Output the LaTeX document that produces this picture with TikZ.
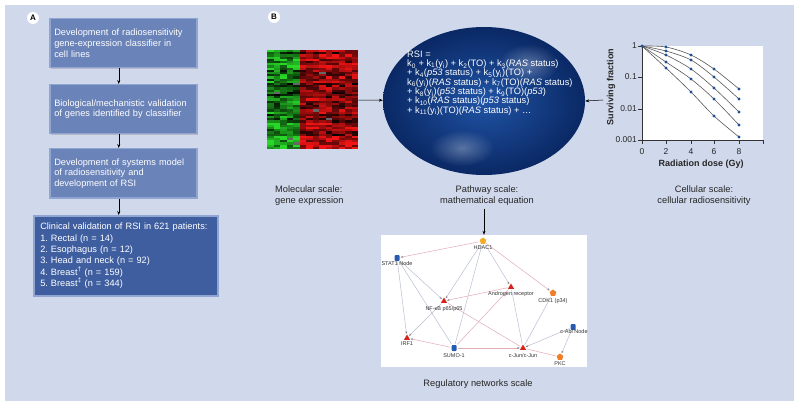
\documentclass[tikz,border=0pt]{standalone}
\usepackage{fontspec}
\setmainfont{Liberation Sans}
\usetikzlibrary{arrows.meta,shapes.geometric,fadings,shadows,calc}
\hyphenpenalty=10000
\definecolor{bg}{RGB}{208,216,235}
\definecolor{boxA}{RGB}{106,131,185}
\definecolor{boxD}{RGB}{62,94,160}
\definecolor{boxedge}{RGB}{145,165,210}
\definecolor{ellout}{RGB}{10,40,100}
\definecolor{ellin}{RGB}{32,84,166}
\definecolor{hgreen}{RGB}{40,215,40}
\definecolor{hred}{RGB}{240,20,20}
\definecolor{dotblue}{RGB}{30,78,154}
\definecolor{epink}{RGB}{225,172,182}
\definecolor{egray}{RGB}{186,192,210}
\definecolor{nred}{RGB}{215,35,30}
\definecolor{nblue}{RGB}{40,90,180}
\definecolor{norange}{RGB}{240,125,40}
\definecolor{nyellow}{RGB}{242,172,40}
\tikzfading[name=softblob, inner color=transparent!0, outer color=transparent!100]
\newcommand\kk[1]{k\textsubscript{#1}}
\tikzset{
  boxstyle/.style={draw=boxedge, line width=1.5pt, fill=boxA, text=white,
    font=\fontsize{9.2}{10.6}\selectfont, align=left, anchor=north west,
    inner xsep=4.5pt, inner ysep=0pt, text width=138pt, minimum height=49pt,
    drop shadow={shadow xshift=1pt, shadow yshift=-1pt, opacity=0.35}},
  arr/.style={-{Stealth[length=4pt,width=3pt]}, line width=0.5pt, black},
  lbl/.style={font=\fontsize{9.3}{11}\selectfont, text=black!85, inner sep=0pt},
  tick/.style={font=\fontsize{8.5}{9}\selectfont, inner sep=0pt, text=black!85},
  panlab/.style={circle, fill=white, inner sep=0pt, minimum size=12pt, font=\fontsize{8}{8}\selectfont\bfseries},
  nlab/.style={font=\fontsize{5.5}{6}\selectfont, text=black!80, inner sep=0pt, anchor=north},
  nr/.style={regular polygon, regular polygon sides=3, fill=nred, inner sep=0pt, minimum size=7pt},
  nb/.style={rectangle, rounded corners=1pt, fill=nblue, inner sep=0pt, minimum width=5pt, minimum height=6pt},
  no/.style={regular polygon, regular polygon sides=5, fill=norange, inner sep=0pt, minimum size=7pt},
  ny/.style={regular polygon, regular polygon sides=5, fill=nyellow, inner sep=0pt, minimum size=7pt},
  ep/.style={draw=epink, line width=0.5pt},
  eg/.style={draw=egray, line width=0.5pt},
  ea/.style={-{Stealth[length=2.5pt,width=2pt,color=black!50]}}
}
\begin{document}
\begin{tikzpicture}[x=1pt,y=-1pt]
\useasboundingbox (0,0) rectangle (799,406);
\fill[white] (0,0) rectangle (799,406);
\fill[bg] (5,5) rectangle (794,401);

% ---------- Panel A ----------
\node[panlab] (labA) at (33,18) {A};
\node[boxstyle] (b1) at (49,18) {Development of radiosensitivity\\gene-expression classifier in\\cell lines};
\node[boxstyle] (b2) at (49,84) {Biological/mechanistic validation\\of genes identified by classifier};
\node[boxstyle] (b3) at (49,148) {Development of systems model\\of radiosensitivity and\\development of RSI};
\node[boxstyle, fill=boxD, text width=171pt, inner xsep=6.5pt, minimum height=80pt,
  font=\fontsize{9.2}{11.3}\selectfont\frenchspacing] (b4) at (33,215)
  {Clinical validation of RSI in 621 patients:\\
   1. Rectal (n = 14)\\
   2. Esophagus (n = 12)\\
   3. Head and neck (n = 92)\\
   4. Breast\textsuperscript{†} (n = 159)\\
   5. Breast\textsuperscript{‡} (n = 344)};
\draw[arr] ([xshift=-4.5pt]b1.south) -- ([xshift=-4.5pt]b2.north);
\draw[arr] ([xshift=-4.5pt]b2.south) -- ([xshift=-4.5pt]b3.north);
\draw[arr] ([xshift=-4.5pt]b3.south) -- ([xshift=-4.5pt]b3.south |- b4.north);

% ---------- Panel B ----------
\node[panlab] (labB) at (274,17) {B};

% heat map
\node[minimum width=91pt, minimum height=99pt, inner sep=0pt, anchor=north west] (heat) at (267,50) {};
\pgfmathsetseed{11}
\foreach \j in {0,...,44}{
  \pgfmathsetmacro\rf{rnd}
  \foreach \i in {0,...,13}{
    \pgfmathtruncatemacro\v{max(0,min(100,100*(0.5*\rf+0.8*rnd)-5))}
    \pgfmathtruncatemacro\g{rnd*100}
    \ifnum\i<5 \def\hc{hgreen}\else\def\hc{hred}\fi
    \ifnum\g>98 \fill[gray!80!black] ({267+6.5*\i},{50+2.2*\j}) rectangle ++(6.5,2.2);
    \else \fill[\hc!\v!black] ({267+6.5*\i},{50+2.2*\j}) rectangle ++(6.5,2.2);\fi
  }
}

% ellipse
\node[ellipse, minimum width=202pt, minimum height=148pt, inner sep=0pt,
  inner color=ellin, outer color=ellout] (ell) at (484,101) {};
\begin{scope}
  \clip (484,101) ellipse (101pt and 74pt);
  \fill[white, opacity=0.3, path fading=softblob] (528,64) ellipse (30pt and 20pt);
  \fill[white, opacity=0.3, path fading=softblob] (462,148) ellipse (32pt and 18pt);
\end{scope}
\node[anchor=west, text=white, align=left, inner sep=0pt,
  font=\fontsize{9.3}{9.35}\selectfont] (eq) at (407,83)
 {RSI =\\
  \kk{0} + \kk{1}(y\textsubscript{i}) + \kk{2}(TO) + \kk{3}(\textit{RAS} status)\\
  + \kk{4}(\textit{p53} status) + \kk{5}(y\textsubscript{i})(TO) +\\
  \kk{6}(y\textsubscript{i})(\textit{RAS} status) + \kk{7}(TO)(\textit{RAS} status)\\
  + \kk{8}(y\textsubscript{i})(\textit{p53} status) + \kk{9}(TO)(\textit{p53})\\
  + \kk{10}(\textit{RAS} status)(\textit{p53} status)\\
  + \kk{11}(y\textsubscript{i})(TO)(\textit{RAS} status) + …};
\draw[arr] (heat) -- (ell);

% survival plot
\fill[white] (642,46) rectangle (763,140);
\draw[black!80, line width=0.5pt] (642,46) -- (642,140) -- (763,140);
\foreach \yy/\t [count=\k] in {46/1,77/0.1,109/0.01,140/0.001}{
  \draw[black!80, line width=0.5pt] (638,\yy) -- (642,\yy);
  \node[tick, anchor=east] (yt\k) at (637,\yy) {\t};
}
\foreach \xx/\t [count=\k] in {642/0,666/2,691/4,714/6,739/8}{
  \draw[black!80, line width=0.5pt] (\xx,140) -- (\xx,144);
  \node[tick] (xt\k) at (\xx,152) {\t};
}
\draw[black!80, line width=0.5pt] (763,140) -- (763,144);
\node[font=\fontsize{9}{9}\selectfont\bfseries, text=black!85, inner sep=0pt] (xlab) at (701,164) {Radiation dose (Gy)};
\node[font=\fontsize{9}{9}\selectfont\bfseries, text=black!85, inner sep=0pt, rotate=90] (ylab) at (611,87) {Surviving fraction};
\begin{scope}[black!65, line width=0.6pt]
\draw plot[smooth] coordinates {(642,46) (666,47) (691,55) (714,69) (739,89)};
\draw plot[smooth] coordinates {(642,46) (666,51) (691,60) (714,77) (739,99)};
\draw plot[smooth] coordinates {(642,46) (666,55) (691,69) (714,88) (739,112)};
\draw plot[smooth] coordinates {(642,46) (666,62) (691,79) (714,99) (739,125)};
\draw plot[smooth] coordinates {(642,46) (666,68) (691,92) (714,116) (739,137)};
\end{scope}
\foreach \p in {(642,46),(666,47),(691,55),(714,69),(739,89),(666,51),(691,60),(714,77),(739,99),
  (666,55),(691,69),(714,88),(739,112),(666,62),(691,79),(714,99),(739,125),
  (666,68),(691,92),(714,116),(739,137)}
  \fill[dotblue] \p circle (1.6pt);
\coordinate (gstart) at (603,100);
\draw[arr] (gstart) -- (ell.east);

% scale labels
\node[lbl, align=left, anchor=west] (mol) at (275,195.5) {Molecular scale:\\gene expression};
\node[lbl, align=center] (pathw) at (487,195.5) {Pathway scale:\\mathematical equation};
\node[lbl, align=center] (cell) at (704,195.5) {Cellular scale:\\cellular radiosensitivity};

% network
\node[fill=white, minimum width=206pt, minimum height=132pt, inner sep=0pt] (net) at (484,301) {};
\draw[arr] ([yshift=-3pt]pathw.south -| net.north) -- (net.north);
\node[lbl] (reg) at (478,384) {Regulatory networks scale};

\node[ny] (hdac) at (483,241) {};
\node[nb] (stat) at (397,258) {};
\node[nr] (ar) at (511,287) {};
\node[no] (cdk) at (553,293) {};
\node[nr] (nfkb) at (444,301) {};
\node[nr] (irf) at (407,338) {};
\node[nb] (sumo) at (454,348) {};
\node[nr] (cjun) at (523,348) {};
\node[nb] (cabl) at (573,327) {};
\node[no] (pkc) at (560,357) {};

\begin{scope}[shorten >=1pt, shorten <=1pt]
\draw[ep, ea] (hdac) -- (stat);
\draw[eg, ea] (hdac) -- (nfkb);
\draw[eg, ea] (hdac) -- (ar);
\draw[ep, ea] (hdac) -- (cdk);
\draw[eg] (hdac) -- (sumo);
\draw[eg, ea] (stat) -- (nfkb);
\draw[eg, ea] (stat) -- (irf);
\draw[eg] (stat) -- (sumo);
\draw[ep, ea] (ar) -- (nfkb);
\draw[ep] (ar) -- (sumo);
\draw[eg] (ar) -- (cjun);
\draw[eg, ea] (nfkb) -- (irf);
\draw[ep] (nfkb) -- (cjun);
\draw[ep, ea] (sumo) -- (irf);
\draw[ep, ea] (sumo) -- (cjun);
\draw[eg] (cdk) -- (cjun);
\draw[eg, ea] (cabl) -- (cjun);
\draw[eg, ea] (cabl) -- (pkc);
\draw[ep] (pkc) -- (cjun);
\end{scope}

\node[nlab] (hdacL) at (483,245) {HDAC1};
\node[nlab] (statL) at (397,261) {STAT1 Node};
\node[nlab] (arL) at (511,291) {Androgen receptor};
\node[nlab] (cdkL) at (553,298) {CDK1 (p34)};
\node[nlab] (nfkbL) at (444,306) {NF-κB p65/p65};
\node[nlab] (irfL) at (407,342) {IRF1};
\node[nlab] (sumoL) at (454,353) {SUMO-1};
\node[nlab] (cjunL) at (523,353) {c-Jun/c-Jun};
\node[nlab] (cablL) at (574,329) {c-Abl Node};
\node[nlab] (pkcL) at (560,361) {PKC};
\end{tikzpicture}
\end{document}
